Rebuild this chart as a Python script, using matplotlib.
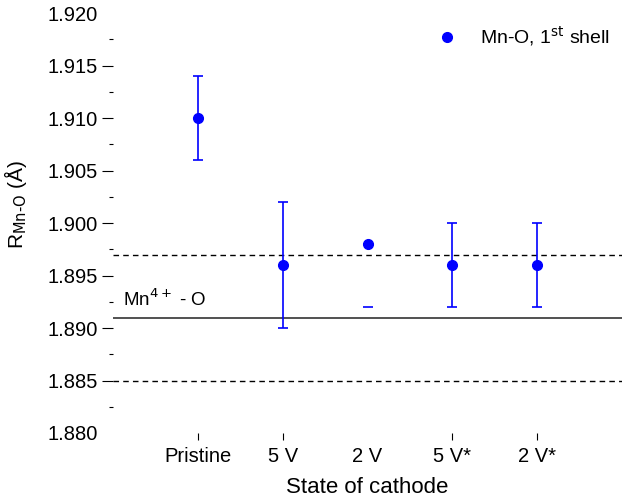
import numpy as np
import matplotlib.pyplot as plt

plt.rcParams['font.family'] = ['Liberation Sans', 'DejaVu Sans']
plt.rcParams['font.size'] = 14.5

states = ['Pristine', '5 V', '2 V', '5 V*', '2 V*']
r_mno = [1.910, 1.896, 1.898, 1.896, 1.896]
err_low = [0.004, 0.006, 0.006, 0.004, 0.004]
err_high = [0.004, 0.006, 0.0, 0.004, 0.004]
ref_mn4 = 1.891
ref_band = [1.885, 1.897]

x = np.arange(1, len(states) + 1)

fig = plt.figure(figsize=(6.24, 5.0), dpi=100)
ax = fig.add_axes([0.181, 0.134, 0.816, 0.840])

ax.axhline(ref_mn4, color='#333333', lw=1.2)
for yv in ref_band:
    ax.axhline(yv, color='black', lw=1.0, ls=(0, (4, 3)))
ax.text(0.12, ref_mn4 + 0.0011, 'Mn$^{4+}$ - O', fontsize=13.5, va='baseline', ha='left')

# 2 V point: only the lower cap shows in the original
for i in range(len(states)):
    ew = 0 if states[i] == '2 V' else 1.2
    ax.errorbar(x[i], r_mno[i], yerr=[[err_low[i]], [err_high[i]]], fmt='none',
                ecolor='blue', elinewidth=ew, capsize=3.5, capthick=1.2, zorder=3)
ax.plot(x, r_mno, 'o', color='blue', ms=7, zorder=4,
        label='Mn-O, 1$^{\\mathrm{st}}$ shell')
ax.legend(loc='upper right', frameon=False, handletextpad=0.95, fontsize=14,
          handlelength=1.5, numpoints=1, bbox_to_anchor=(1.01, 1.015))

ax.set_xlim(0, 6)
ax.set_ylim(1.880, 1.920)
ax.set_xticks(x)
ax.set_xticklabels(states)
ax.set_yticks(np.arange(1.880, 1.9201, 0.005))
ax.set_yticklabels(['%.3f' % v for v in np.arange(1.880, 1.9201, 0.005)])
ax.set_yticks(np.arange(1.8825, 1.92, 0.005), minor=True)
ax.tick_params(axis='y', which='major', length=8, width=0.8, pad=3)
ax.tick_params(axis='y', which='minor', length=3, width=0.8)
ax.tick_params(axis='x', length=5, width=0.8, pad=5)
ticks = ax.yaxis.get_major_ticks()
ticks[0].tick1line.set_visible(False)
ticks[-1].tick1line.set_visible(False)
ax.xaxis.get_major_ticks()[2].tick1line.set_visible(False)
for s in ax.spines.values():
    s.set_visible(False)

ax.set_xlabel('State of cathode', fontsize=16, labelpad=8)
ax.set_ylabel('R$_{\\mathrm{Mn\\text{-}O}}$ (Å)', fontsize=15)
ax.yaxis.set_label_coords(-0.165, 0.545)

fig.savefig('out.png', dpi=100)
